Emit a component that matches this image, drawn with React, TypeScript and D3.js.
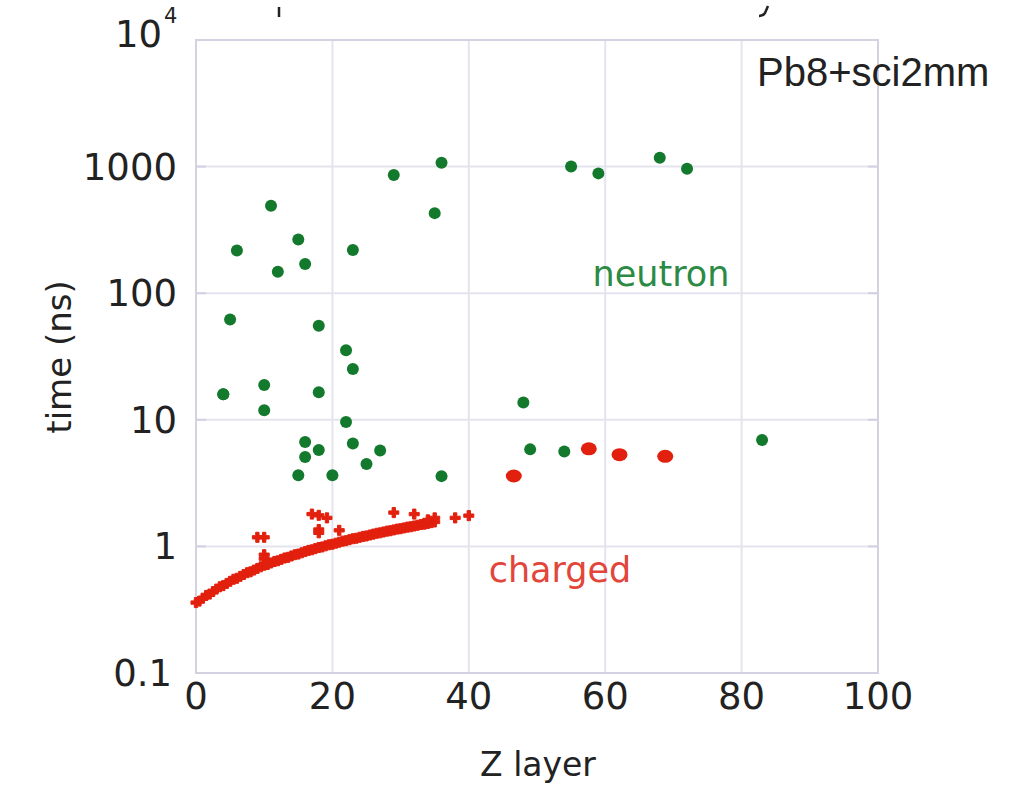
import React from "react";
import * as d3 from "d3";

// neutron hits (Z layer, time ns)
const neutronZ = [4, 5, 6, 11, 29, 36, 35, 55, 15, 23, 16, 12, 18, 22, 23, 4, 10, 10, 18, 22, 48, 16, 18, 16, 23, 27, 25, 15, 20, 36, 49, 54, 59, 68, 72, 83];
const neutronT = [15.9, 62, 217, 491, 857, 1074, 429, 1003, 266, 219, 170, 148, 55.4, 35.5, 25.2, 15.9, 18.8, 11.9, 16.5, 9.6, 13.7, 6.67, 5.77, 5.08, 6.51, 5.73, 4.47, 3.64, 3.64, 3.59, 5.84, 5.63, 884, 1176, 962, 6.92];

// charged hits: main band
const chargedZ = [0, 0.5, 1, 1.5, 2, 2.5, 3, 3.5, 4, 4.5, 5, 5.5, 6, 6.5, 7, 7.5, 8, 8.5, 9, 9.5, 10, 10.5, 11, 11.5, 12, 12.5, 13, 13.5, 14, 14.5, 15, 15.5, 16, 16.5, 17, 17.5, 18, 18.5, 19, 19.5, 20, 20.5, 21, 21.5, 22, 22.5, 23, 23.5, 24, 24.5, 25, 25.5, 26, 26.5, 27, 27.5, 28, 28.5, 29, 29.5, 30, 30.5, 31, 31.5, 32, 32.5, 33, 33.5, 34, 34.5, 35];
const chargedT = [0.36, 0.37, 0.39, 0.41, 0.42, 0.44, 0.46, 0.48, 0.49, 0.51, 0.53, 0.55, 0.56, 0.58, 0.6, 0.62, 0.63, 0.65, 0.67, 0.69, 0.71, 0.72, 0.74, 0.76, 0.77, 0.79, 0.81, 0.82, 0.84, 0.86, 0.87, 0.89, 0.91, 0.93, 0.94, 0.96, 0.98, 0.99, 1.01, 1.03, 1.04, 1.06, 1.08, 1.1, 1.11, 1.13, 1.15, 1.16, 1.18, 1.2, 1.21, 1.23, 1.25, 1.27, 1.28, 1.3, 1.32, 1.33, 1.35, 1.37, 1.38, 1.4, 1.42, 1.43, 1.45, 1.47, 1.49, 1.5, 1.52, 1.54, 1.56];
// charged hits: scattered above the band
const chargedOutZ = [9, 10, 10, 10, 17, 18, 19.2, 18, 18, 21, 29, 32, 34, 35, 38, 40];
const chargedOutT = [1.18, 1.18, 0.86, 0.8, 1.8, 1.76, 1.68, 1.36, 1.28, 1.34, 1.85, 1.8, 1.62, 1.68, 1.68, 1.75];
// charged hits: late (large markers)
const chargedLateZ = [46.6, 57.6, 62.1, 68.8];
const chargedLateT = [3.6, 5.9, 5.3, 5.15];

const xTicks = [0, 20, 40, 60, 80, 100];
const yTicks = [0.1, 1, 10, 100, 1000];
const yTickLabels = ["0.1", "1", "10", "100", "1000"];

const W = 1016;
const H = 787;
const L = 196, R = 878, T = 40, B = 673;

const GREEN = "#137a2d";
const RED = "#e2200e";
const GRID = "#e4e4ee";
const FRAME = "#d2d2e2";
const TXT = "#222";
const FONT = "'DejaVu Sans', sans-serif";

export default function App() {
  const x = d3.scaleLinear().domain([0, 100]).range([L, R]);
  const y = d3.scaleLog().domain([0.1, 10000]).range([B, T]);
  const cross = d3.symbol(d3.symbolCross, 56)() as string;

  const band = chargedZ.map((z, i) => ({ z, t: chargedT[i] }));
  const outs = chargedOutZ.map((z, i) => ({ z, t: chargedOutT[i] }));
  const late = chargedLateZ.map((z, i) => ({ z, t: chargedLateT[i] }));
  const neut = neutronZ.map((z, i) => ({ z, t: neutronT[i] }));

  return (
    <svg
      width={W}
      height={H}
      style={{ position: "absolute", left: 0, top: 0, background: "#fff" }}
      fontFamily={FONT}
    >
      {/* remnants of a cut-off title above the chart */}
      <g stroke={TXT} strokeWidth={2.5} fill="none">
        <line x1={279} x2={279} y1={7} y2={17} />
        <path d="M768,6 L765,13 Q763,16 759,16" />
      </g>

      {/* grid */}
      {xTicks.slice(1, -1).map((v) => (
        <line key={"gx" + v} x1={x(v)} x2={x(v)} y1={T} y2={B} stroke={GRID} strokeWidth={2} />
      ))}
      {yTicks.slice(1).map((v) => (
        <line key={"gy" + v} x1={L} x2={R} y1={y(v)} y2={y(v)} stroke={GRID} strokeWidth={2} />
      ))}
      {/* inner ticks */}
      {yTicks.slice(1).map((v) => (
        <g key={"ty" + v}>
          <line x1={L} x2={L + 10} y1={y(v)} y2={y(v)} stroke={FRAME} strokeWidth={2} />
          <line x1={R - 10} x2={R} y1={y(v)} y2={y(v)} stroke={FRAME} strokeWidth={2} />
        </g>
      ))}
      <rect x={L} y={T} width={R - L} height={B - T} fill="none" stroke={FRAME} strokeWidth={2} />

      {/* y tick labels */}
      {yTicks.map((v, i) => (
        <text key={"yl" + v} x={v === 0.1 ? 172 : 177} y={y(v) + 13} textAnchor="end" fontSize={37} fill={TXT}>
          {yTickLabels[i]}
        </text>
      ))}
      <text x={162} y={y(10000) + 7} textAnchor="end" fontSize={37} fill={TXT}>10</text>
      <text x={164} y={y(10000) - 17} fontSize={21} fill={TXT}>4</text>

      {/* x tick labels */}
      {xTicks.map((v) => (
        <text key={"xl" + v} x={x(v)} y={709} textAnchor="middle" fontSize={37} fill={TXT}>
          {v}
        </text>
      ))}

      {/* axis titles */}
      <text x={538} y={776} textAnchor="middle" fontSize={33} fill={TXT}>Z layer</text>
      <text transform="translate(71,357) rotate(-90)" textAnchor="middle" fontSize={34} fill={TXT}>
        time (ns)
      </text>

      {/* annotations */}
      <text x={757} y={86} fontSize={40} fontFamily="'Liberation Sans', Arial, sans-serif" fill={TXT}>
        Pb8+sci2mm
      </text>
      <text x={661} y={286} textAnchor="middle" fontSize={35} fill="#2b8a44">neutron</text>
      <text x={560} y={582} textAnchor="middle" fontSize={35} fill="#e2463a">charged</text>

      {/* charged band */}
      {band.map((d, i) => (
        <path key={"b" + i} d={cross} transform={`translate(${x(d.z)},${y(d.t)})`} fill={RED} stroke={RED} strokeWidth={1} />
      ))}
      {outs.map((d, i) => (
        <path key={"o" + i} d={cross} transform={`translate(${x(d.z)},${y(d.t)})`} fill={RED} stroke={RED} strokeWidth={1} />
      ))}
      {late.map((d, i) => (
        <ellipse key={"l" + i} cx={x(d.z)} cy={y(d.t)} rx={8} ry={6.5} fill={RED} />
      ))}

      {/* neutrons */}
      {neut.map((d, i) => (
        <circle key={"n" + i} cx={x(d.z)} cy={y(d.t)} r={6} fill={GREEN} />
      ))}
    </svg>
  );
}
